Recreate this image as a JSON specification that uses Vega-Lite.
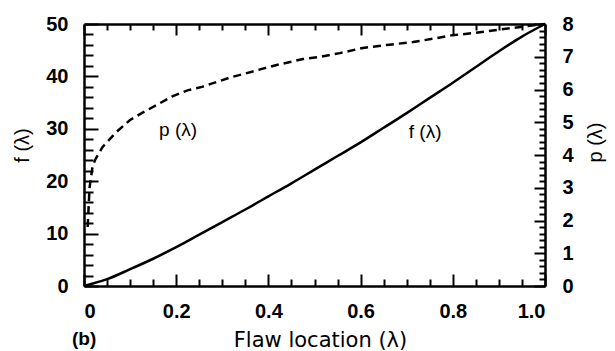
{
  "$schema": "https://vega.github.io/schema/vega-lite/v6.json",
  "width": 461,
  "height": 262,
  "autosize": {"type": "none"},
  "padding": {"left": 84, "top": 24, "right": 70, "bottom": 65},
  "background": "white",
  "config": {
    "view": {"stroke": null},
    "axis": {
      "grid": false,
      "domainColor": "black",
      "tickColor": "black",
      "labelColor": "black",
      "titleColor": "black",
      "domainWidth": 2.5,
      "tickWidth": 2,
      "labelFont": "Liberation Sans",
      "labelFontWeight": "bold",
      "labelFontSize": 20,
      "titleFont": "Liberation Sans",
      "titleFontWeight": "normal",
      "titleFontSize": 20
    }
  },
  "datasets": {
    "f": [
      {"lambda": 0, "f": 0},
      {"lambda": 0.05, "f": 1.3},
      {"lambda": 0.1, "f": 3.2},
      {"lambda": 0.15, "f": 5.2},
      {"lambda": 0.2, "f": 7.4},
      {"lambda": 0.25, "f": 9.8},
      {"lambda": 0.3, "f": 12.2},
      {"lambda": 0.35, "f": 14.6},
      {"lambda": 0.4, "f": 17.1},
      {"lambda": 0.45, "f": 19.6},
      {"lambda": 0.5, "f": 22.2},
      {"lambda": 0.55, "f": 24.8},
      {"lambda": 0.6, "f": 27.4},
      {"lambda": 0.65, "f": 30.2},
      {"lambda": 0.7, "f": 33.0},
      {"lambda": 0.75, "f": 35.9},
      {"lambda": 0.8, "f": 38.8},
      {"lambda": 0.85, "f": 41.8},
      {"lambda": 0.9, "f": 44.8},
      {"lambda": 0.95, "f": 47.6},
      {"lambda": 1.0, "f": 50}
    ],
    "p": [
      {"lambda": 0.008, "p": 1.8},
      {"lambda": 0.012, "p": 3.0},
      {"lambda": 0.018, "p": 3.6},
      {"lambda": 0.024, "p": 3.85},
      {"lambda": 0.04, "p": 4.24},
      {"lambda": 0.07, "p": 4.7},
      {"lambda": 0.1, "p": 5.07},
      {"lambda": 0.128, "p": 5.3},
      {"lambda": 0.158, "p": 5.53},
      {"lambda": 0.193, "p": 5.8},
      {"lambda": 0.226, "p": 5.98},
      {"lambda": 0.256, "p": 6.08},
      {"lambda": 0.288, "p": 6.23},
      {"lambda": 0.32, "p": 6.38},
      {"lambda": 0.353, "p": 6.5},
      {"lambda": 0.386, "p": 6.63},
      {"lambda": 0.418, "p": 6.75},
      {"lambda": 0.447, "p": 6.84},
      {"lambda": 0.475, "p": 6.93},
      {"lambda": 0.512, "p": 7.0},
      {"lambda": 0.555, "p": 7.11},
      {"lambda": 0.605, "p": 7.27},
      {"lambda": 0.657, "p": 7.36},
      {"lambda": 0.714, "p": 7.45},
      {"lambda": 0.766, "p": 7.57},
      {"lambda": 0.8, "p": 7.66},
      {"lambda": 0.844, "p": 7.72},
      {"lambda": 0.896, "p": 7.82},
      {"lambda": 0.93, "p": 7.88},
      {"lambda": 0.98, "p": 7.97},
      {"lambda": 1.0, "p": 8.0}
    ],
    "flabel": [{"x": 0.74, "y": 29.4, "text": "f (λ)"}],
    "plabel": [{"x": 0.204, "y": 4.76, "text": "p (λ)"}]
  },
  "title": {
    "text": "(b)",
    "orient": "bottom",
    "anchor": "start",
    "frame": "group",
    "dx": -12,
    "offset": -20,
    "font": "Liberation Sans",
    "fontSize": 19,
    "fontWeight": "bold",
    "color": "black"
  },
  "layer": [
    {
      "layer": [
        {
          "data": {"name": "f"},
          "mark": {"type": "line", "color": "black", "strokeWidth": 2.5, "interpolate": "monotone"},
          "encoding": {
            "x": {
              "field": "lambda", "type": "quantitative",
              "scale": {"domain": [0, 1], "nice": false},
              "axis": {
                "orient": "bottom",
                "values": [0, 0.2, 0.4, 0.6, 0.8, 1],
                "tickSize": -12,
                "labelPadding": 27,
                "labelFlush": true,
                "labelExpr": "datum.value == 0 ? '0' : format(datum.value, '.1f')",
                "title": "Flaw location (λ)",
                "titleFont": "DejaVu Sans",
                "titleFontSize": 21,
                "titlePadding": 8,
                "titleX": 236
              }
            },
            "y": {
              "field": "f", "type": "quantitative",
              "scale": {"domain": [0, 50], "nice": false},
              "axis": {
                "orient": "left",
                "values": [0, 10, 20, 30, 40, 50],
                "tickSize": -14,
                "labelPadding": 30,
                "title": "f (λ)",
                "titleAngle": 270,
                "titleX": -62,
                "titleY": 121,
                "titleBaseline": "middle",
                "titleAlign": "center"
              }
            }
          }
        },
        {
          "data": {"name": "flabel"},
          "mark": {"type": "text", "font": "Liberation Sans", "fontSize": 19, "color": "black"},
          "encoding": {
            "x": {
              "field": "x", "type": "quantitative",
              "scale": {"domain": [0, 1], "nice": false},
              "axis": {
                "orient": "bottom",
                "values": [0.05, 0.1, 0.15, 0.25, 0.3, 0.35, 0.45, 0.5, 0.55, 0.65, 0.7, 0.75, 0.85, 0.9, 0.95],
                "tickSize": -7,
                "labels": false,
                "domain": false,
                "title": null
              }
            },
            "y": {
              "field": "y", "type": "quantitative",
              "scale": {"domain": [0, 50], "nice": false},
              "axis": {
                "orient": "left",
                "values": [2, 4, 6, 8, 12, 14, 16, 18, 22, 24, 26, 28, 32, 34, 36, 38, 42, 44, 46, 48],
                "tickSize": -9,
                "labels": false,
                "domain": false,
                "title": null
              }
            },
            "text": {"field": "text"}
          }
        }
      ],
      "resolve": {"axis": {"x": "independent", "y": "independent"}}
    },
    {
      "layer": [
        {
          "data": {"name": "p"},
          "mark": {"type": "line", "color": "black", "strokeWidth": 2.5, "strokeDash": [8, 5]},
          "encoding": {
            "x": {
              "field": "lambda", "type": "quantitative",
              "scale": {"domain": [0, 1], "nice": false},
              "axis": {
                "orient": "top",
                "values": [0, 0.2, 0.4, 0.6, 0.8, 1],
                "tickSize": -11,
                "labels": false,
                "title": null
              }
            },
            "y": {
              "field": "p", "type": "quantitative",
              "scale": {"domain": [0, 8], "nice": false},
              "axis": {
                "orient": "right",
                "values": [0, 1, 2, 3, 4, 5, 6, 7, 8],
                "tickSize": -11,
                "labelPadding": 28,
                "title": "p (λ)",
                "titleAngle": 270,
                "titleX": 50,
                "titleY": 118,
                "titleBaseline": "middle",
                "titleAlign": "center"
              }
            }
          }
        },
        {
          "data": {"name": "plabel"},
          "mark": {"type": "text", "font": "Liberation Sans", "fontSize": 19, "color": "black"},
          "encoding": {
            "x": {
              "field": "x", "type": "quantitative",
              "scale": {"domain": [0, 1], "nice": false},
              "axis": {
                "orient": "top",
                "values": [0.05, 0.1, 0.15, 0.25, 0.3, 0.35, 0.45, 0.5, 0.55, 0.65, 0.7, 0.75, 0.85, 0.9, 0.95],
                "tickSize": -6,
                "labels": false,
                "domain": false,
                "title": null
              }
            },
            "y": {
              "field": "y", "type": "quantitative",
              "scale": {"domain": [0, 8], "nice": false},
              "axis": {
                "orient": "right",
                "values": [0.2, 0.4, 0.6, 0.8, 1.2, 1.4, 1.6, 1.8, 2.2, 2.4, 2.6, 2.8, 3.2, 3.4, 3.6, 3.8, 4.2, 4.4, 4.6, 4.8, 5.2, 5.4, 5.6, 5.8, 6.2, 6.4, 6.6, 6.8, 7.2, 7.4, 7.6, 7.8],
                "tickSize": -6,
                "labels": false,
                "domain": false,
                "title": null
              }
            },
            "text": {"field": "text"}
          }
        }
      ],
      "resolve": {"axis": {"x": "independent", "y": "independent"}}
    }
  ],
  "resolve": {
    "scale": {"y": "independent"},
    "axis": {"x": "independent", "y": "independent"}
  }
}
